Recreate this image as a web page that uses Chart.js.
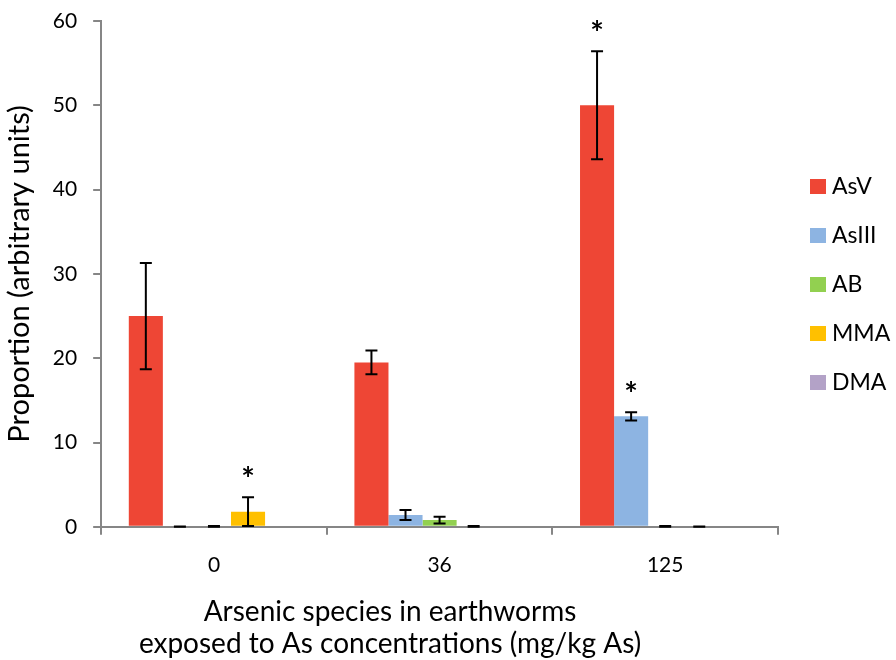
<!DOCTYPE html>
<html>
<head>
<meta charset="utf-8">
<script src="https://cdn.jsdelivr.net/npm/chart.js@4"></script>
<style>
  body { margin: 0; background: #fff; }
  #wrap { width: 896px; height: 660px; }
</style>
</head>
<body>
<div id="wrap"><canvas id="chart" width="896" height="660"></canvas></div>
<script>
const categories = ['0', '36', '125'];
const seriesNames = ['AsV', 'AsIII', 'AB', 'MMA', 'DMA'];
const seriesColors = ['#EE4635', '#8DB4E2', '#92D050', '#FFC000', '#B3A2C7'];

// mean values per series, one entry per category
const asV   = [25.0, 19.5, 50.0];
const asIII = [0.0, 1.4, 13.1];
const ab    = [0.0, 0.8, 0.0];
const mma   = [1.8, 0.0, 0.0];
const dma   = [0.0, 0.0, 0.0];

// standard errors
const asVErr   = [6.3, 1.4, 6.4];
const asIIIErr = [0.05, 0.6, 0.5];
const abErr    = [0.1, 0.4, 0.1];
const mmaErr   = [1.7, 0.1, 0.05];
const dmaErr   = [0, 0, 0];

// significance markers
const asVSig   = [false, false, true];
const asIIISig = [false, false, true];
const abSig    = [false, false, false];
const mmaSig   = [true, false, false];
const dmaSig   = [false, false, false];

const yTicks = [0, 10, 20, 30, 40, 50, 60];

const values = [asV, asIII, ab, mma, dma];
const errors = [asVErr, asIIIErr, abErr, mmaErr, dmaErr];
const stars = [asVSig, asIIISig, abSig, mmaSig, dmaSig];

const FONT = 'Lato, "Open Sans", sans-serif';

const errorBars = {
  id: 'errorBars',
  afterDatasetsDraw(chart) {
    const ctx = chart.ctx;
    const y = chart.scales.y;
    ctx.save();
    chart.data.datasets.forEach((ds, i) => {
      const meta = chart.getDatasetMeta(i);
      meta.data.forEach((bar, j) => {
        const err = errors[i][j];
        const v = values[i][j];
        const x = bar.x;
        const top = y.getPixelForValue(v + err);
        const bot = y.getPixelForValue(Math.max(v - err, 0));
        if (err > 0) {
          ctx.strokeStyle = '#000';
          ctx.lineWidth = 2;
          ctx.beginPath();
          ctx.moveTo(x, top); ctx.lineTo(x, bot);
          ctx.moveTo(x - 6, top); ctx.lineTo(x + 6, top);
          ctx.moveTo(x - 6, bot); ctx.lineTo(x + 6, bot);
          ctx.stroke();
        }
        if (stars[i][j]) {
          ctx.fillStyle = '#000';
          ctx.font = 'bold 32px ' + FONT;
          ctx.textAlign = 'center';
          ctx.textBaseline = 'alphabetic';
          ctx.fillText('*', x, top - 6);
        }
      });
    });
    ctx.restore();
  }
};

// legend drawn to the right of the plot
const sideLegend = {
  id: 'sideLegend',
  afterDraw(chart) {
    const ctx = chart.ctx;
    ctx.save();
    ctx.font = '23px ' + FONT;
    ctx.textBaseline = 'middle';
    ctx.textAlign = 'left';
    seriesNames.forEach((name, i) => {
      const cy = 187 + i * 49;
      ctx.fillStyle = seriesColors[i];
      ctx.fillRect(810, cy - 8, 16, 15);
      ctx.fillStyle = '#000';
      ctx.fillText(name, 832, cy);
    });
    ctx.restore();
  }
};

new Chart(document.getElementById('chart'), {
  type: 'bar',
  data: {
    labels: categories,
    datasets: seriesNames.map((name, i) => ({
      label: name,
      data: values[i],
      backgroundColor: seriesColors[i],
      borderWidth: 0,
      categoryPercentage: 0.755,
      barPercentage: 1.0
    }))
  },
  options: {
    responsive: false,
    animation: false,
    layout: { padding: { left: 2, right: 118, top: 3, bottom: 0 } },
    plugins: {
      legend: { display: false },
      tooltip: { enabled: false },
      title: {
        display: true,
        position: 'bottom',
        text: ['Arsenic species in earthworms', 'exposed to As concentrations (mg/kg As)'],
        color: '#000',
        font: { family: FONT, size: 28, weight: 'normal', lineHeight: '32px' },
        padding: { top: 0, bottom: 0 }
      }
    },
    scales: {
      x: {
        grid: { display: true, offset: true, drawOnChartArea: false, drawTicks: true, tickLength: 8, color: '#868686', lineWidth: 2 },
        border: { display: true, color: '#868686', width: 2 },
        ticks: { color: '#000', font: { family: FONT, size: 21 }, padding: 18 }
      },
      y: {
        min: 0,
        max: 60,
        afterBuildTicks(scale) { scale.ticks = yTicks.map(v => ({ value: v })); },
        // keep the top of the plot close to the canvas edge
        afterFit(scale) { scale.paddingTop = 21; scale.paddingBottom = 0; },
        grid: { display: true, drawOnChartArea: false, drawTicks: true, tickLength: 8, color: '#868686', lineWidth: 2 },
        border: { display: true, color: '#868686', width: 2 },
        ticks: { color: '#000', font: { family: FONT, size: 21 }, padding: 16 },
        title: {
          display: true,
          text: 'Proportion (arbitrary units)',
          color: '#000',
          font: { family: FONT, size: 29 },
          padding: { top: 0, bottom: 0 }
        }
      }
    }
  },
  plugins: [errorBars, sideLegend]
});
</script>
</body>
</html>
